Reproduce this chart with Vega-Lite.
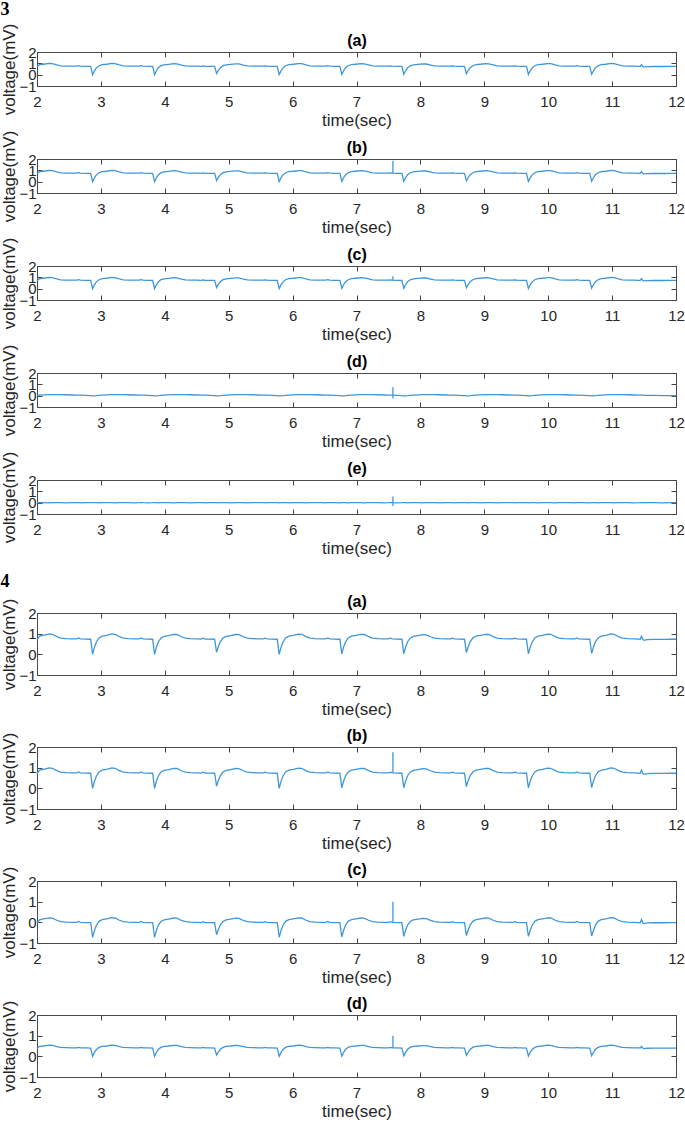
{
"$schema": "https://vega.github.io/schema/vega-lite/v6.json",
"background": "white",
"padding": {"left": 0, "top": 0, "right": 0, "bottom": 0},
"config": {
 "view": {"stroke": "#4a4a4a", "strokeWidth": 1},
 "axis": {"grid": false, "domain": false, "tickColor": "#444444", "tickSize": -5, "tickWidth": 1, "labelFont": "Liberation Sans", "labelFontSize": 15, "labelColor": "#262626", "titleFont": "Liberation Sans", "titleFontSize": 17, "titleFontWeight": "normal", "titleColor": "#262626", "labelOverlap": false, "labelFlush": false, "labelBound": false, "minExtent": 0},
 "axisX": {"labelPadding": 13, "titlePadding": 3},
 "axisY": {"labelPadding": 6, "titlePadding": 0},
 "axisTop": {"titleFontSize": 16, "titleFontWeight": "bold", "titleColor": "#000000", "titlePadding": 3},
 "title": {"font": "Liberation Serif", "fontSize": 18, "fontWeight": "bold", "color": "#000000", "anchor": "start", "frame": "bounds"}
},
"datasets": {
"ecg": [
{"t":2.00,"v":0.70,"c":-0.04,"d":0.39,"r":0.03,"e":0},
{"t":2.04,"v":0.88,"c":0.12,"d":0.48,"r":0.05,"e":0.01},
{"t":2.10,"v":0.92,"c":0.17,"d":0.50,"r":0.07,"e":0},
{"t":2.19,"v":0.99,"c":0.22,"d":0.54,"r":0.09,"e":-0.01},
{"t":2.24,"v":0.97,"c":0.20,"d":0.53,"r":0.10,"e":0},
{"t":2.31,"v":0.86,"c":0.10,"d":0.47,"r":0.10,"e":0.01},
{"t":2.37,"v":0.78,"c":0.03,"d":0.43,"r":0.09,"e":0},
{"t":2.45,"v":0.76,"c":0.01,"d":0.42,"r":0.08,"e":-0.01},
{"t":2.55,"v":0.75,"c":0,"d":0.41,"r":0.06,"e":0},
{"t":2.62,"v":0.75,"c":0,"d":0.41,"r":0.05,"e":0.01},
{"t":2.65,"v":0.79,"c":0.04,"d":0.43,"r":0.04,"e":0},
{"t":2.68,"v":0.75,"c":0,"d":0.41,"r":0.04,"e":-0.01},
{"t":2.76,"v":0.74,"c":-0.01,"d":0.41,"r":0.02,"e":0},
{"t":2.84,"v":0.73,"c":-0.01,"d":0.40,"r":0,"e":0.01},
{"t":2.87,"v":0.00,"c":-0.72,"d":0.00,"r":-0.01,"e":0},
{"t":2.90,"v":0.36,"c":-0.38,"d":0.20,"r":-0.01,"e":0.01},
{"t":2.93,"v":0.60,"c":-0.14,"d":0.33,"r":0,"e":0},
{"t":2.97,"v":0.79,"c":0.05,"d":0.43,"r":0.02,"e":-0.01},
{"t":3.02,"v":0.88,"c":0.13,"d":0.48,"r":0.04,"e":0},
{"t":3.09,"v":0.92,"c":0.17,"d":0.50,"r":0.07,"e":0.01},
{"t":3.17,"v":0.99,"c":0.23,"d":0.54,"r":0.09,"e":0},
{"t":3.22,"v":0.97,"c":0.21,"d":0.53,"r":0.10,"e":-0.01},
{"t":3.29,"v":0.86,"c":0.10,"d":0.47,"r":0.10,"e":0},
{"t":3.35,"v":0.78,"c":0.03,"d":0.43,"r":0.09,"e":0.01},
{"t":3.43,"v":0.76,"c":0.01,"d":0.42,"r":0.08,"e":0},
{"t":3.53,"v":0.75,"c":0,"d":0.41,"r":0.06,"e":-0.01},
{"t":3.60,"v":0.75,"c":0,"d":0.41,"r":0.05,"e":0},
{"t":3.63,"v":0.79,"c":0.04,"d":0.43,"r":0.04,"e":0.01},
{"t":3.66,"v":0.75,"c":0,"d":0.41,"r":0.04,"e":0},
{"t":3.73,"v":0.74,"c":-0.01,"d":0.41,"r":0.02,"e":-0.01},
{"t":3.81,"v":0.73,"c":-0.01,"d":0.40,"r":0,"e":0},
{"t":3.84,"v":0.00,"c":-0.72,"d":0.00,"r":-0.01,"e":0.01},
{"t":3.87,"v":0.36,"c":-0.37,"d":0.20,"r":-0.01,"e":0},
{"t":3.90,"v":0.61,"c":-0.13,"d":0.34,"r":0,"e":-0.01},
{"t":3.94,"v":0.79,"c":0.04,"d":0.43,"r":0.02,"e":0},
{"t":3.99,"v":0.87,"c":0.12,"d":0.48,"r":0.04,"e":0.01},
{"t":4.06,"v":0.91,"c":0.16,"d":0.50,"r":0.07,"e":0},
{"t":4.14,"v":0.97,"c":0.21,"d":0.53,"r":0.09,"e":-0.01},
{"t":4.19,"v":0.96,"c":0.20,"d":0.53,"r":0.10,"e":0},
{"t":4.26,"v":0.85,"c":0.09,"d":0.47,"r":0.10,"e":0.01},
{"t":4.32,"v":0.78,"c":0.03,"d":0.43,"r":0.09,"e":0},
{"t":4.40,"v":0.76,"c":0.01,"d":0.42,"r":0.08,"e":-0.01},
{"t":4.50,"v":0.75,"c":0,"d":0.41,"r":0.06,"e":0},
{"t":4.57,"v":0.74,"c":-0.01,"d":0.41,"r":0.05,"e":0.01},
{"t":4.60,"v":0.78,"c":0.03,"d":0.43,"r":0.04,"e":0},
{"t":4.63,"v":0.74,"c":-0.01,"d":0.41,"r":0.04,"e":-0.01},
{"t":4.70,"v":0.74,"c":-0.01,"d":0.41,"r":0.02,"e":0},
{"t":4.78,"v":0.73,"c":-0.02,"d":0.40,"r":0,"e":0.01},
{"t":4.81,"v":0.10,"c":-0.60,"d":0.06,"r":-0.01,"e":0},
{"t":4.84,"v":0.40,"c":-0.34,"d":0.22,"r":-0.01,"e":-0.01},
{"t":4.87,"v":0.62,"c":-0.12,"d":0.34,"r":0,"e":0},
{"t":4.91,"v":0.79,"c":0.04,"d":0.43,"r":0.02,"e":0.01},
{"t":4.96,"v":0.87,"c":0.12,"d":0.48,"r":0.04,"e":0},
{"t":5.03,"v":0.91,"c":0.16,"d":0.50,"r":0.07,"e":-0.01},
{"t":5.11,"v":0.96,"c":0.20,"d":0.53,"r":0.09,"e":0},
{"t":5.16,"v":0.95,"c":0.19,"d":0.52,"r":0.10,"e":0.01},
{"t":5.23,"v":0.85,"c":0.09,"d":0.47,"r":0.10,"e":0},
{"t":5.29,"v":0.78,"c":0.03,"d":0.43,"r":0.09,"e":-0.01},
{"t":5.37,"v":0.76,"c":0.01,"d":0.42,"r":0.08,"e":0},
{"t":5.47,"v":0.75,"c":0,"d":0.41,"r":0.06,"e":0.01},
{"t":5.54,"v":0.75,"c":0,"d":0.41,"r":0.05,"e":0},
{"t":5.57,"v":0.78,"c":0.03,"d":0.43,"r":0.04,"e":-0.01},
{"t":5.60,"v":0.75,"c":0,"d":0.41,"r":0.04,"e":0},
{"t":5.67,"v":0.74,"c":-0.01,"d":0.41,"r":0.02,"e":0.01},
{"t":5.76,"v":0.73,"c":-0.01,"d":0.40,"r":0,"e":0},
{"t":5.79,"v":0.00,"c":-0.72,"d":0.00,"r":-0.01,"e":-0.01},
{"t":5.82,"v":0.35,"c":-0.38,"d":0.19,"r":-0.01,"e":0},
{"t":5.85,"v":0.60,"c":-0.14,"d":0.33,"r":0,"e":0.01},
{"t":5.89,"v":0.79,"c":0.05,"d":0.43,"r":0.02,"e":0},
{"t":5.94,"v":0.88,"c":0.13,"d":0.48,"r":0.04,"e":-0.01},
{"t":6.01,"v":0.92,"c":0.17,"d":0.50,"r":0.07,"e":0},
{"t":6.09,"v":0.98,"c":0.22,"d":0.54,"r":0.09,"e":0.01},
{"t":6.14,"v":0.97,"c":0.21,"d":0.53,"r":0.10,"e":0},
{"t":6.21,"v":0.86,"c":0.10,"d":0.47,"r":0.10,"e":-0.01},
{"t":6.27,"v":0.78,"c":0.03,"d":0.43,"r":0.09,"e":0},
{"t":6.35,"v":0.76,"c":0.01,"d":0.42,"r":0.08,"e":0.01},
{"t":6.45,"v":0.75,"c":0,"d":0.41,"r":0.06,"e":0},
{"t":6.52,"v":0.75,"c":0,"d":0.41,"r":0.05,"e":-0.01},
{"t":6.55,"v":0.79,"c":0.04,"d":0.43,"r":0.04,"e":0},
{"t":6.58,"v":0.75,"c":0,"d":0.41,"r":0.04,"e":0.01},
{"t":6.65,"v":0.74,"c":-0.01,"d":0.41,"r":0.02,"e":0},
{"t":6.74,"v":0.73,"c":-0.01,"d":0.40,"r":0,"e":-0.01},
{"t":6.77,"v":0.02,"c":-0.70,"d":0.01,"r":-0.01,"e":0},
{"t":6.80,"v":0.37,"c":-0.37,"d":0.20,"r":-0.01,"e":0.01},
{"t":6.83,"v":0.61,"c":-0.13,"d":0.34,"r":0,"e":0},
{"t":6.87,"v":0.79,"c":0.05,"d":0.43,"r":0.02,"e":-0.01},
{"t":6.92,"v":0.88,"c":0.13,"d":0.48,"r":0.04,"e":0},
{"t":6.99,"v":0.92,"c":0.17,"d":0.50,"r":0.07,"e":0.01},
{"t":7.07,"v":0.97,"c":0.21,"d":0.53,"r":0.09,"e":0},
{"t":7.12,"v":0.96,"c":0.20,"d":0.53,"r":0.10,"e":-0.01},
{"t":7.19,"v":0.86,"c":0.10,"d":0.47,"r":0.10,"e":0},
{"t":7.25,"v":0.78,"c":0.03,"d":0.43,"r":0.09,"e":0.01},
{"t":7.33,"v":0.76,"c":0.01,"d":0.42,"r":0.08,"e":0},
{"t":7.43,"v":0.75,"c":0,"d":0.41,"r":0.06,"e":-0.01},
{"t":7.50,"v":0.75,"c":0,"d":0.41,"r":0.05,"e":0},
{"t":7.53,"v":0.78,"c":0.03,"d":0.43,"r":0.04,"e":0.01},
{"t":7.56,"v":0.75,"c":0,"d":0.41,"r":0.04,"e":0},
{"t":7.63,"v":0.74,"c":-0.01,"d":0.41,"r":0.02,"e":-0.01},
{"t":7.71,"v":0.73,"c":-0.01,"d":0.40,"r":0,"e":0},
{"t":7.74,"v":0.03,"c":-0.68,"d":0.02,"r":-0.01,"e":0.01},
{"t":7.77,"v":0.37,"c":-0.36,"d":0.20,"r":-0.01,"e":0},
{"t":7.80,"v":0.61,"c":-0.13,"d":0.34,"r":0,"e":-0.01},
{"t":7.84,"v":0.78,"c":0.04,"d":0.43,"r":0.02,"e":0},
{"t":7.89,"v":0.87,"c":0.12,"d":0.48,"r":0.04,"e":0.01},
{"t":7.96,"v":0.91,"c":0.16,"d":0.50,"r":0.07,"e":0},
{"t":8.04,"v":0.95,"c":0.19,"d":0.52,"r":0.09,"e":-0.01},
{"t":8.09,"v":0.94,"c":0.18,"d":0.52,"r":0.10,"e":0},
{"t":8.16,"v":0.85,"c":0.09,"d":0.47,"r":0.10,"e":0.01},
{"t":8.22,"v":0.78,"c":0.03,"d":0.43,"r":0.09,"e":0},
{"t":8.30,"v":0.76,"c":0.01,"d":0.42,"r":0.08,"e":-0.01},
{"t":8.40,"v":0.75,"c":0,"d":0.41,"r":0.06,"e":0},
{"t":8.47,"v":0.75,"c":0,"d":0.41,"r":0.05,"e":0.01},
{"t":8.50,"v":0.78,"c":0.03,"d":0.43,"r":0.04,"e":0},
{"t":8.53,"v":0.75,"c":0,"d":0.41,"r":0.04,"e":-0.01},
{"t":8.60,"v":0.74,"c":-0.01,"d":0.41,"r":0.02,"e":0},
{"t":8.69,"v":0.73,"c":-0.01,"d":0.40,"r":0,"e":0.01},
{"t":8.72,"v":0.08,"c":-0.64,"d":0.05,"r":-0.01,"e":0},
{"t":8.75,"v":0.39,"c":-0.35,"d":0.21,"r":-0.01,"e":-0.01},
{"t":8.78,"v":0.62,"c":-0.12,"d":0.34,"r":0,"e":0},
{"t":8.82,"v":0.79,"c":0.05,"d":0.43,"r":0.02,"e":0.01},
{"t":8.87,"v":0.88,"c":0.13,"d":0.48,"r":0.04,"e":0},
{"t":8.94,"v":0.92,"c":0.17,"d":0.50,"r":0.07,"e":-0.01},
{"t":9.02,"v":0.97,"c":0.21,"d":0.53,"r":0.09,"e":0},
{"t":9.07,"v":0.96,"c":0.20,"d":0.53,"r":0.10,"e":0.01},
{"t":9.14,"v":0.86,"c":0.10,"d":0.47,"r":0.10,"e":0},
{"t":9.20,"v":0.78,"c":0.03,"d":0.43,"r":0.09,"e":-0.01},
{"t":9.28,"v":0.76,"c":0.01,"d":0.42,"r":0.08,"e":0},
{"t":9.38,"v":0.75,"c":0,"d":0.41,"r":0.06,"e":0.01},
{"t":9.45,"v":0.75,"c":0,"d":0.41,"r":0.05,"e":0},
{"t":9.48,"v":0.78,"c":0.03,"d":0.43,"r":0.04,"e":-0.01},
{"t":9.51,"v":0.75,"c":0,"d":0.41,"r":0.04,"e":0},
{"t":9.58,"v":0.74,"c":-0.01,"d":0.41,"r":0.02,"e":0.01},
{"t":9.66,"v":0.73,"c":-0.01,"d":0.40,"r":0,"e":0},
{"t":9.69,"v":0.02,"c":-0.68,"d":0.01,"r":-0.01,"e":-0.01},
{"t":9.72,"v":0.36,"c":-0.37,"d":0.20,"r":-0.01,"e":0},
{"t":9.75,"v":0.60,"c":-0.14,"d":0.33,"r":0,"e":0.01},
{"t":9.79,"v":0.79,"c":0.05,"d":0.43,"r":0.02,"e":0},
{"t":9.84,"v":0.88,"c":0.13,"d":0.48,"r":0.04,"e":-0.01},
{"t":9.91,"v":0.92,"c":0.17,"d":0.50,"r":0.07,"e":0},
{"t":9.99,"v":0.98,"c":0.22,"d":0.54,"r":0.09,"e":0.01},
{"t":10.04,"v":0.97,"c":0.21,"d":0.53,"r":0.10,"e":0},
{"t":10.11,"v":0.86,"c":0.10,"d":0.47,"r":0.10,"e":-0.01},
{"t":10.17,"v":0.78,"c":0.03,"d":0.43,"r":0.09,"e":0},
{"t":10.25,"v":0.76,"c":0.01,"d":0.42,"r":0.08,"e":0.01},
{"t":10.35,"v":0.75,"c":0,"d":0.41,"r":0.06,"e":0},
{"t":10.42,"v":0.75,"c":0,"d":0.41,"r":0.05,"e":-0.01},
{"t":10.45,"v":0.79,"c":0.04,"d":0.43,"r":0.04,"e":0},
{"t":10.48,"v":0.75,"c":0,"d":0.41,"r":0.04,"e":0.01},
{"t":10.55,"v":0.74,"c":-0.01,"d":0.41,"r":0.02,"e":0},
{"t":10.65,"v":0.73,"c":-0.01,"d":0.40,"r":0,"e":-0.01},
{"t":10.68,"v":0.04,"c":-0.66,"d":0.03,"r":-0.01,"e":0},
{"t":10.71,"v":0.37,"c":-0.37,"d":0.20,"r":-0.01,"e":0.01},
{"t":10.74,"v":0.61,"c":-0.13,"d":0.34,"r":0,"e":0},
{"t":10.78,"v":0.79,"c":0.05,"d":0.43,"r":0.02,"e":-0.01},
{"t":10.83,"v":0.88,"c":0.13,"d":0.48,"r":0.04,"e":0},
{"t":10.90,"v":0.92,"c":0.17,"d":0.50,"r":0.07,"e":0.01},
{"t":10.98,"v":0.99,"c":0.23,"d":0.54,"r":0.09,"e":0},
{"t":11.03,"v":0.97,"c":0.21,"d":0.53,"r":0.10,"e":-0.01},
{"t":11.10,"v":0.86,"c":0.10,"d":0.47,"r":0.10,"e":0},
{"t":11.16,"v":0.78,"c":0.03,"d":0.43,"r":0.09,"e":0.01},
{"t":11.24,"v":0.76,"c":0.01,"d":0.42,"r":0.08,"e":0},
{"t":11.34,"v":0.75,"c":0,"d":0.41,"r":0.06,"e":-0.01},
{"t":11.42,"v":0.74,"c":-0.01,"d":0.41,"r":0.05,"e":0},
{"t":11.44,"v":0.73,"c":-0.02,"d":0.40,"r":0.04,"e":0.01},
{"t":11.46,"v":0.88,"c":0.14,"d":0.48,"r":0.05,"e":0},
{"t":11.48,"v":0.73,"c":-0.02,"d":0.40,"r":0.04,"e":-0.01},
{"t":11.50,"v":0.68,"c":-0.06,"d":0.37,"r":0.03,"e":0},
{"t":11.55,"v":0.71,"c":-0.03,"d":0.39,"r":0.03,"e":0.01},
{"t":11.65,"v":0.72,"c":-0.02,"d":0.40,"r":0.02,"e":0},
{"t":11.80,"v":0.72,"c":-0.02,"d":0.40,"r":0.01,"e":-0.01},
{"t":11.92,"v":0.73,"c":-0.01,"d":0.40,"r":0,"e":0},
{"t":12.00,"v":0.73,"c":-0.01,"d":0.40,"r":0,"e":0.01}
],
"spikes": [
{"p":"3b","t":7.57,"lo":0.76,"hi":1.85},
{"p":"3c","t":7.57,"lo":0.72,"hi":1.1},
{"p":"3d","t":7.57,"lo":-0.25,"hi":0.75},
{"p":"3e","t":7.57,"lo":-0.3,"hi":0.55},
{"p":"4b","t":7.57,"lo":0.75,"hi":1.75},
{"p":"4c","t":7.57,"lo":0.0,"hi":1.0},
{"p":"4d","t":7.57,"lo":0.4,"hi":1.0}
]
},
"spacing": 16,
"vconcat": [
{
 "title": {"text": "3", "offset": 4},
 "spacing": 0,
 "vconcat": [
  {"width": 639, "height": 34,
   "layer": [
    {"data": {"name": "ecg"}, "mark": {"type": "line", "color": "#3f97da", "strokeWidth": 1.3}, "encoding": {"x": {"field": "t", "type": "quantitative", "scale": {"domain": [2, 12]}, "axis": {"orient": "bottom", "title": "time(sec)", "values": [2,3,4,5,6,7,8,9,10,11,12]}}, "y": {"field": "v", "type": "quantitative", "scale": {"domain": [-1, 2]}, "axis": {"orient": "left", "title": "voltage(mV)", "values": [-1,0,1,2]}}}},
    {"data": {"name": "ecg"}, "mark": {"type": "line", "opacity": 0}, "encoding": {"x": {"field": "t", "type": "quantitative", "scale": {"domain": [2, 12]}, "axis": {"orient": "top", "labels": false, "title": "(a)", "values": [2,3,4,5,6,7,8,9,10,11,12]}}, "y": {"field": "v", "type": "quantitative", "scale": {"domain": [-1, 2]}, "axis": {"orient": "right", "labels": false, "title": null, "values": [-1,0,1,2]}}}}
   ],
   "resolve": {"axis": {"x": "independent", "y": "independent"}}},
  {"width": 639, "height": 34,
   "layer": [
    {"data": {"name": "ecg"}, "mark": {"type": "line", "color": "#3f97da", "strokeWidth": 1.3}, "encoding": {"x": {"field": "t", "type": "quantitative", "scale": {"domain": [2, 12]}, "axis": {"orient": "bottom", "title": "time(sec)", "values": [2,3,4,5,6,7,8,9,10,11,12]}}, "y": {"field": "v", "type": "quantitative", "scale": {"domain": [-1, 2]}, "axis": {"orient": "left", "title": "voltage(mV)", "values": [-1,0,1,2]}}}},
    {"data": {"name": "ecg"}, "mark": {"type": "line", "opacity": 0}, "encoding": {"x": {"field": "t", "type": "quantitative", "scale": {"domain": [2, 12]}, "axis": {"orient": "top", "labels": false, "title": "(b)", "values": [2,3,4,5,6,7,8,9,10,11,12]}}, "y": {"field": "v", "type": "quantitative", "scale": {"domain": [-1, 2]}, "axis": {"orient": "right", "labels": false, "title": null, "values": [-1,0,1,2]}}}},
    {"data": {"name": "spikes"}, "transform": [{"filter": "datum.p === '3b'"}], "mark": {"type": "rule", "color": "#3f97da", "strokeWidth": 1.3}, "encoding": {"x": {"field": "t", "type": "quantitative", "scale": {"domain": [2, 12]}, "axis": null}, "y": {"field": "lo", "type": "quantitative", "scale": {"domain": [-1, 2]}, "axis": null}, "y2": {"field": "hi"}}}
   ],
   "resolve": {"axis": {"x": "independent", "y": "independent"}}},
  {"width": 639, "height": 34,
   "layer": [
    {"data": {"name": "ecg"}, "mark": {"type": "line", "color": "#3f97da", "strokeWidth": 1.3}, "encoding": {"x": {"field": "t", "type": "quantitative", "scale": {"domain": [2, 12]}, "axis": {"orient": "bottom", "title": "time(sec)", "values": [2,3,4,5,6,7,8,9,10,11,12]}}, "y": {"field": "v", "type": "quantitative", "scale": {"domain": [-1, 2]}, "axis": {"orient": "left", "title": "voltage(mV)", "values": [-1,0,1,2]}}}},
    {"data": {"name": "ecg"}, "mark": {"type": "line", "opacity": 0}, "encoding": {"x": {"field": "t", "type": "quantitative", "scale": {"domain": [2, 12]}, "axis": {"orient": "top", "labels": false, "title": "(c)", "values": [2,3,4,5,6,7,8,9,10,11,12]}}, "y": {"field": "v", "type": "quantitative", "scale": {"domain": [-1, 2]}, "axis": {"orient": "right", "labels": false, "title": null, "values": [-1,0,1,2]}}}},
    {"data": {"name": "spikes"}, "transform": [{"filter": "datum.p === '3c'"}], "mark": {"type": "rule", "color": "#3f97da", "strokeWidth": 1.3}, "encoding": {"x": {"field": "t", "type": "quantitative", "scale": {"domain": [2, 12]}, "axis": null}, "y": {"field": "lo", "type": "quantitative", "scale": {"domain": [-1, 2]}, "axis": null}, "y2": {"field": "hi"}}}
   ],
   "resolve": {"axis": {"x": "independent", "y": "independent"}}},
  {"width": 639, "height": 34,
   "layer": [
    {"data": {"name": "ecg"}, "mark": {"type": "line", "color": "#3f97da", "strokeWidth": 1.3}, "encoding": {"x": {"field": "t", "type": "quantitative", "scale": {"domain": [2, 12]}, "axis": {"orient": "bottom", "title": "time(sec)", "values": [2,3,4,5,6,7,8,9,10,11,12]}}, "y": {"field": "r", "type": "quantitative", "scale": {"domain": [-1, 2]}, "axis": {"orient": "left", "title": "voltage(mV)", "values": [-1,0,1,2]}}}},
    {"data": {"name": "ecg"}, "mark": {"type": "line", "opacity": 0}, "encoding": {"x": {"field": "t", "type": "quantitative", "scale": {"domain": [2, 12]}, "axis": {"orient": "top", "labels": false, "title": "(d)", "values": [2,3,4,5,6,7,8,9,10,11,12]}}, "y": {"field": "r", "type": "quantitative", "scale": {"domain": [-1, 2]}, "axis": {"orient": "right", "labels": false, "title": null, "values": [-1,0,1,2]}}}},
    {"data": {"name": "spikes"}, "transform": [{"filter": "datum.p === '3d'"}], "mark": {"type": "rule", "color": "#3f97da", "strokeWidth": 1.3}, "encoding": {"x": {"field": "t", "type": "quantitative", "scale": {"domain": [2, 12]}, "axis": null}, "y": {"field": "lo", "type": "quantitative", "scale": {"domain": [-1, 2]}, "axis": null}, "y2": {"field": "hi"}}}
   ],
   "resolve": {"axis": {"x": "independent", "y": "independent"}}},
  {"width": 639, "height": 34,
   "layer": [
    {"data": {"name": "ecg"}, "mark": {"type": "line", "color": "#3f97da", "strokeWidth": 1.3}, "encoding": {"x": {"field": "t", "type": "quantitative", "scale": {"domain": [2, 12]}, "axis": {"orient": "bottom", "title": "time(sec)", "values": [2,3,4,5,6,7,8,9,10,11,12]}}, "y": {"field": "e", "type": "quantitative", "scale": {"domain": [-1, 2]}, "axis": {"orient": "left", "title": "voltage(mV)", "values": [-1,0,1,2]}}}},
    {"data": {"name": "ecg"}, "mark": {"type": "line", "opacity": 0}, "encoding": {"x": {"field": "t", "type": "quantitative", "scale": {"domain": [2, 12]}, "axis": {"orient": "top", "labels": false, "title": "(e)", "values": [2,3,4,5,6,7,8,9,10,11,12]}}, "y": {"field": "e", "type": "quantitative", "scale": {"domain": [-1, 2]}, "axis": {"orient": "right", "labels": false, "title": null, "values": [-1,0,1,2]}}}},
    {"data": {"name": "spikes"}, "transform": [{"filter": "datum.p === '3e'"}], "mark": {"type": "rule", "color": "#3f97da", "strokeWidth": 1.3}, "encoding": {"x": {"field": "t", "type": "quantitative", "scale": {"domain": [2, 12]}, "axis": null}, "y": {"field": "lo", "type": "quantitative", "scale": {"domain": [-1, 2]}, "axis": null}, "y2": {"field": "hi"}}}
   ],
   "resolve": {"axis": {"x": "independent", "y": "independent"}}}
 ]
},
{
 "title": {"text": "4", "offset": 2},
 "spacing": 9,
 "vconcat": [
  {"width": 639, "height": 62,
   "layer": [
    {"data": {"name": "ecg"}, "mark": {"type": "line", "color": "#3f97da", "strokeWidth": 1.3}, "encoding": {"x": {"field": "t", "type": "quantitative", "scale": {"domain": [2, 12]}, "axis": {"orient": "bottom", "title": "time(sec)", "values": [2,3,4,5,6,7,8,9,10,11,12]}}, "y": {"field": "v", "type": "quantitative", "scale": {"domain": [-1, 2]}, "axis": {"orient": "left", "title": "voltage(mV)", "values": [-1,0,1,2]}}}},
    {"data": {"name": "ecg"}, "mark": {"type": "line", "opacity": 0}, "encoding": {"x": {"field": "t", "type": "quantitative", "scale": {"domain": [2, 12]}, "axis": {"orient": "top", "labels": false, "title": "(a)", "values": [2,3,4,5,6,7,8,9,10,11,12]}}, "y": {"field": "v", "type": "quantitative", "scale": {"domain": [-1, 2]}, "axis": {"orient": "right", "labels": false, "title": null, "values": [-1,0,1,2]}}}}
   ],
   "resolve": {"axis": {"x": "independent", "y": "independent"}}},
  {"width": 639, "height": 62,
   "layer": [
    {"data": {"name": "ecg"}, "mark": {"type": "line", "color": "#3f97da", "strokeWidth": 1.3}, "encoding": {"x": {"field": "t", "type": "quantitative", "scale": {"domain": [2, 12]}, "axis": {"orient": "bottom", "title": "time(sec)", "values": [2,3,4,5,6,7,8,9,10,11,12]}}, "y": {"field": "v", "type": "quantitative", "scale": {"domain": [-1, 2]}, "axis": {"orient": "left", "title": "voltage(mV)", "values": [-1,0,1,2]}}}},
    {"data": {"name": "ecg"}, "mark": {"type": "line", "opacity": 0}, "encoding": {"x": {"field": "t", "type": "quantitative", "scale": {"domain": [2, 12]}, "axis": {"orient": "top", "labels": false, "title": "(b)", "values": [2,3,4,5,6,7,8,9,10,11,12]}}, "y": {"field": "v", "type": "quantitative", "scale": {"domain": [-1, 2]}, "axis": {"orient": "right", "labels": false, "title": null, "values": [-1,0,1,2]}}}},
    {"data": {"name": "spikes"}, "transform": [{"filter": "datum.p === '4b'"}], "mark": {"type": "rule", "color": "#3f97da", "strokeWidth": 1.3}, "encoding": {"x": {"field": "t", "type": "quantitative", "scale": {"domain": [2, 12]}, "axis": null}, "y": {"field": "lo", "type": "quantitative", "scale": {"domain": [-1, 2]}, "axis": null}, "y2": {"field": "hi"}}}
   ],
   "resolve": {"axis": {"x": "independent", "y": "independent"}}},
  {"width": 639, "height": 62,
   "layer": [
    {"data": {"name": "ecg"}, "mark": {"type": "line", "color": "#3f97da", "strokeWidth": 1.3}, "encoding": {"x": {"field": "t", "type": "quantitative", "scale": {"domain": [2, 12]}, "axis": {"orient": "bottom", "title": "time(sec)", "values": [2,3,4,5,6,7,8,9,10,11,12]}}, "y": {"field": "c", "type": "quantitative", "scale": {"domain": [-1, 2]}, "axis": {"orient": "left", "title": "voltage(mV)", "values": [-1,0,1,2]}}}},
    {"data": {"name": "ecg"}, "mark": {"type": "line", "opacity": 0}, "encoding": {"x": {"field": "t", "type": "quantitative", "scale": {"domain": [2, 12]}, "axis": {"orient": "top", "labels": false, "title": "(c)", "values": [2,3,4,5,6,7,8,9,10,11,12]}}, "y": {"field": "c", "type": "quantitative", "scale": {"domain": [-1, 2]}, "axis": {"orient": "right", "labels": false, "title": null, "values": [-1,0,1,2]}}}},
    {"data": {"name": "spikes"}, "transform": [{"filter": "datum.p === '4c'"}], "mark": {"type": "rule", "color": "#3f97da", "strokeWidth": 1.3}, "encoding": {"x": {"field": "t", "type": "quantitative", "scale": {"domain": [2, 12]}, "axis": null}, "y": {"field": "lo", "type": "quantitative", "scale": {"domain": [-1, 2]}, "axis": null}, "y2": {"field": "hi"}}}
   ],
   "resolve": {"axis": {"x": "independent", "y": "independent"}}},
  {"width": 639, "height": 62,
   "layer": [
    {"data": {"name": "ecg"}, "mark": {"type": "line", "color": "#3f97da", "strokeWidth": 1.3}, "encoding": {"x": {"field": "t", "type": "quantitative", "scale": {"domain": [2, 12]}, "axis": {"orient": "bottom", "title": "time(sec)", "values": [2,3,4,5,6,7,8,9,10,11,12]}}, "y": {"field": "d", "type": "quantitative", "scale": {"domain": [-1, 2]}, "axis": {"orient": "left", "title": "voltage(mV)", "values": [-1,0,1,2]}}}},
    {"data": {"name": "ecg"}, "mark": {"type": "line", "opacity": 0}, "encoding": {"x": {"field": "t", "type": "quantitative", "scale": {"domain": [2, 12]}, "axis": {"orient": "top", "labels": false, "title": "(d)", "values": [2,3,4,5,6,7,8,9,10,11,12]}}, "y": {"field": "d", "type": "quantitative", "scale": {"domain": [-1, 2]}, "axis": {"orient": "right", "labels": false, "title": null, "values": [-1,0,1,2]}}}},
    {"data": {"name": "spikes"}, "transform": [{"filter": "datum.p === '4d'"}], "mark": {"type": "rule", "color": "#3f97da", "strokeWidth": 1.3}, "encoding": {"x": {"field": "t", "type": "quantitative", "scale": {"domain": [2, 12]}, "axis": null}, "y": {"field": "lo", "type": "quantitative", "scale": {"domain": [-1, 2]}, "axis": null}, "y2": {"field": "hi"}}}
   ],
   "resolve": {"axis": {"x": "independent", "y": "independent"}}}
 ]
}
]
}
